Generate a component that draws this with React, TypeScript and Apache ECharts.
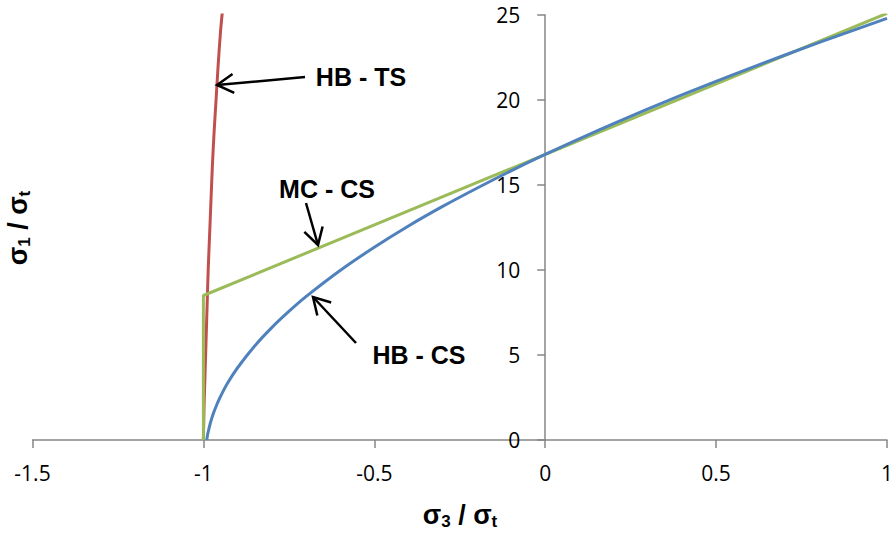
import React, { useEffect, useRef } from "react";
import * as echarts from "echarts";

// (σ3/σt, σ1/σt)
const hbCsX = [-0.99, -0.988, -0.985, -0.98, -0.975, -0.97, -0.96, -0.95, -0.93, -0.9, -0.85, -0.8, -0.75, -0.7, -0.6, -0.5, -0.4, -0.3, -0.2, -0.1, 0, 0.2, 0.4, 0.6, 0.8, 1.0];
const hbCsY = [0, 0.3, 0.56, 0.97, 1.31, 1.61, 2.12, 2.56, 3.32, 4.25, 5.53, 6.61, 7.56, 8.43, 9.97, 11.34, 12.59, 13.74, 14.81, 15.83, 16.8, 18.61, 20.3, 21.88, 23.37, 24.8];

const hbTsX = [-1, -0.998, -0.995, -0.992, -0.989, -0.986, -0.982, -0.978, -0.974, -0.969, -0.963, -0.957, -0.95, -0.944];
const hbTsY = [0, 2, 4, 6, 8, 10, 12, 14, 16, 18, 20, 22, 24, 25.3];

const mcCsX = [-1, -1, 1];
const mcCsY = [0, 8.5, 25.1];

const xTicks = { min: -1.5, max: 1, interval: 0.5 };
const yTicks = { min: 0, max: 25, interval: 5 };

const zip = (xs: number[], ys: number[]) => xs.map((x, i) => [x, ys[i]]);

function arrow(tail: [number, number], tip: [number, number]) {
  const dx = tail[0] - tip[0];
  const dy = tail[1] - tip[1];
  const len = Math.hypot(dx, dy);
  const ux = dx / len, uy = dy / len;
  const a = (30 * Math.PI) / 180;
  const L = 19;
  const rot = (ang: number): [number, number] => [
    tip[0] + L * (ux * Math.cos(ang) - uy * Math.sin(ang)),
    tip[1] + L * (ux * Math.sin(ang) + uy * Math.cos(ang)),
  ];
  const stroke = { stroke: "#000", lineWidth: 2.5, fill: null as any };
  return [
    { type: "line", shape: { x1: tail[0], y1: tail[1], x2: tip[0], y2: tip[1] }, style: stroke, z: 100 },
    { type: "polyline", shape: { points: [rot(a), tip, rot(-a)] }, style: stroke, z: 100 },
  ];
}

const W = 894, H = 534;
const GRID = { left: 32.5, right: 7, top: 15, bottom: 94 };

export default function App() {
  const ref = useRef<HTMLDivElement>(null);
  useEffect(() => {
    if (!ref.current) return;
    const chart = echarts.init(ref.current, null, { renderer: "svg" });
    const axisLine = { lineStyle: { color: "#868686", width: 1.5 } };
    const labelFont = { fontFamily: "Open Sans", fontSize: 21, color: "#000" };
    const annFont = { fontFamily: "Liberation Sans", fontSize: 25, fontWeight: "bold", fill: "#000" };
    const plotW = W - GRID.left - GRID.right;
    // move the y axis so it crosses the x axis at x = 0
    const yOffset = -((0 - xTicks.min) / (xTicks.max - xTicks.min)) * plotW;
    chart.setOption({
      animation: false,
      backgroundColor: "#fff",
      grid: { ...GRID, containLabel: false, outerBoundsMode: "none" },
      xAxis: {
        type: "value",
        min: xTicks.min,
        max: xTicks.max,
        interval: xTicks.interval,
        splitLine: { show: false },
        axisLine: { ...axisLine, onZero: false },
        axisTick: { show: true, length: 8, lineStyle: { color: "#868686", width: 1.5 } },
        axisLabel: { ...labelFont, margin: 22 },
      },
      yAxis: {
        type: "value",
        position: "left",
        offset: yOffset,
        min: yTicks.min,
        max: yTicks.max,
        interval: yTicks.interval,
        splitLine: { show: false },
        axisLine: { ...axisLine, show: true, onZero: false },
        axisTick: { show: true, length: 8, lineStyle: { color: "#868686", width: 1.5 } },
        axisLabel: { ...labelFont, margin: 25 },
      },
      series: [
        {
          name: "HB - TS",
          type: "line",
          data: zip(hbTsX, hbTsY),
          showSymbol: false,
          smooth: 0.3,
          lineStyle: { color: "#C0504D", width: 3 },
          itemStyle: { color: "#C0504D" },
          clip: true,
        },
        {
          name: "MC - CS",
          type: "line",
          data: zip(mcCsX, mcCsY),
          showSymbol: false,
          lineStyle: { color: "#9BBB59", width: 3 },
          itemStyle: { color: "#9BBB59" },
          clip: true,
        },
        {
          name: "HB - CS",
          type: "line",
          data: zip(hbCsX, hbCsY),
          showSymbol: false,
          smooth: 0.3,
          lineStyle: { color: "#4F81BD", width: 3 },
          itemStyle: { color: "#4F81BD" },
          clip: true,
        },
      ],
      graphic: [
        { type: "text", x: 361, y: 77, style: { text: "HB - TS", ...annFont, textAlign: "center", textVerticalAlign: "middle" }, z: 100 },
        { type: "text", x: 327, y: 189, style: { text: "MC - CS", ...annFont, textAlign: "center", textVerticalAlign: "middle" }, z: 100 },
        { type: "text", x: 419, y: 355, style: { text: "HB - CS", ...annFont, textAlign: "center", textVerticalAlign: "middle" }, z: 100 },
        ...arrow([305, 77], [217, 85]),
        ...arrow([306, 203], [318, 245]),
        ...arrow([356, 343], [313, 297]),
        {
          type: "text",
          x: 460,
          y: 515,
          style: {
            text: "{m|σ}{s|3}{m| / σ}{s|t}",
            textAlign: "center",
            textVerticalAlign: "middle",
            rich: {
              m: { fontFamily: "Liberation Sans", fontSize: 27, fontWeight: "bold", fill: "#000", color: "#000" },
              s: { fontFamily: "Liberation Sans", fontSize: 17, fontWeight: "bold", fill: "#000", color: "#000", padding: [12, 0, 0, 0] },
            },
          },
        },
        {
          type: "text",
          x: 18,
          y: 228,
          rotation: Math.PI / 2,
          style: {
            text: "{m|σ}{s|1}{m| / σ}{s|t}",
            textAlign: "center",
            textVerticalAlign: "middle",
            rich: {
              m: { fontFamily: "Liberation Sans", fontSize: 27, fontWeight: "bold", fill: "#000", color: "#000" },
              s: { fontFamily: "Liberation Sans", fontSize: 17, fontWeight: "bold", fill: "#000", color: "#000", padding: [12, 0, 0, 0] },
            },
          },
        },
      ],
    });
    return () => chart.dispose();
  }, []);
  return <div ref={ref} style={{ width: W, height: H, position: "fixed", left: 0, top: 0 }} />;
}
